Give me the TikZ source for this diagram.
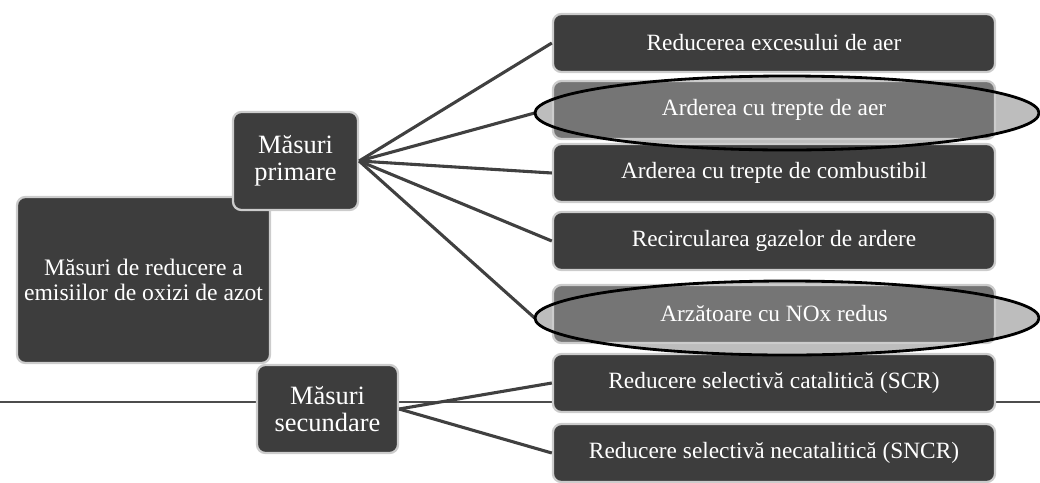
\documentclass[tikz,border=0pt]{standalone}
\usepackage{fontspec}
\setmainfont{Liberation Serif}
\usetikzlibrary{shapes.geometric}
\definecolor{inchis}{gray}{0.24}
\definecolor{mediu}{gray}{0.46}
\definecolor{deschis}{gray}{0.74}
\definecolor{margine}{gray}{0.80}

\begin{document}
\begin{tikzpicture}[x=0.025cm, y=-0.025cm]
\tikzset{cutie/.style={draw=margine, line width=1.6pt, fill=inchis, rounded corners=6pt, text=white, align=center, inner sep=0pt},
  masura/.style={cutie, minimum width=11.05cm, minimum height=1.45cm, font=\fontsize{16.6}{18}\selectfont},
  evidentiat/.style={masura, fill=mediu},
  elipsa/.style={ellipse, inner sep=0pt, minimum width=12.6cm, minimum height=1.85cm},
  legatura/.style={draw=black!75, line width=2.2pt}}
\clip (0,0) rectangle (1040,482);

% linia paginii
\coordinate (stanga) at (0,402);
\coordinate (dreapta) at (1040,402);
\draw[black!70, line width=0.8pt] (stanga) -- (dreapta);

% cutiile din stanga
\node[cutie, minimum width=6.325cm, minimum height=4.15cm, font=\fontsize{16.8}{17.2}\selectfont] (reducere) at (143.5,280) {Măsuri de reducere a\\emisiilor de oxizi de azot};
\node[cutie, minimum width=3.125cm, minimum height=2.45cm, font=\fontsize{18.8}{19.2}\selectfont] (primare) at (295.5,161) {Măsuri\\primare};
\node[cutie, minimum width=3.525cm, minimum height=2.2cm, font=\fontsize{18.8}{19.2}\selectfont] (secundare) at (327.5,409) {Măsuri\\secundare};

% cele doua elipse (umplerea)
\node[elipsa, fill=deschis] (cerc1) at (787,113) {};
\node[elipsa, fill=deschis] (cerc2) at (787,318) {};

% masurile
\node[masura] (exces) at (774,43) {Reducerea excesului de aer};
\node[evidentiat] (treptaer) at (774,110) {Arderea cu trepte de aer};
\node[masura] (treptcomb) at (774,173) {Arderea cu trepte de combustibil};
\node[masura] (recirc) at (774,241) {Recircularea gazelor de ardere};
\node[evidentiat] (arzatoare) at (774,314) {Arzătoare cu NOx redus};
\node[masura] (scr) at (774,383) {Reducere selectivă catalitică (SCR)};
\node[masura] (sncr) at (774,453) {Reducere selectivă necatalitică (SNCR)};

% legaturi
\path[legatura] (primare.east) -- (exces.west);
\path[legatura] (primare.east) -- (cerc1.west);
\path[legatura] (primare.east) -- (treptcomb.west);
\path[legatura] (primare.east) -- (recirc.west);
\path[legatura] (primare.east) -- (cerc2.west);
\path[legatura] (secundare.east) -- (scr.west);
\path[legatura] (secundare.east) -- (sncr.west);

% conturul elipselor
\node[elipsa, draw=black, line width=2pt] at (cerc1) {};
\node[elipsa, draw=black, line width=2pt] at (cerc2) {};
\end{tikzpicture}
\end{document}
